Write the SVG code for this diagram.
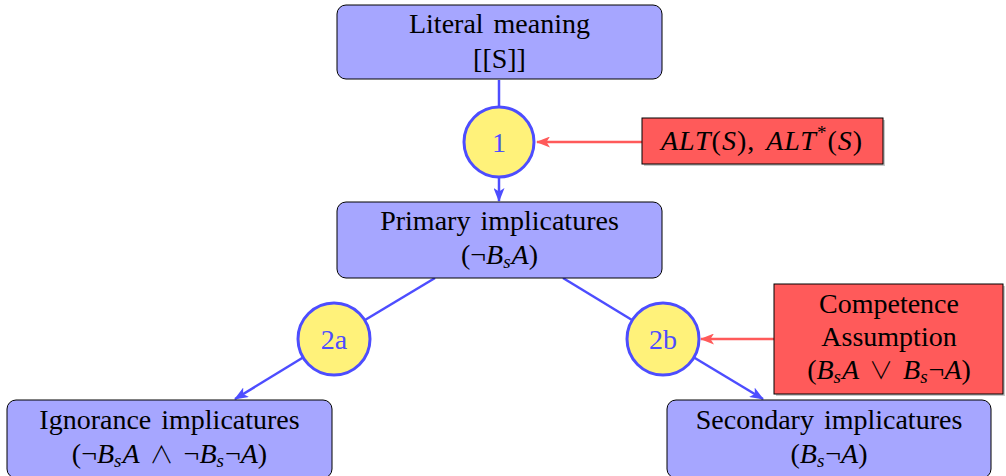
<svg xmlns="http://www.w3.org/2000/svg" width="1006" height="476" viewBox="0 0 1006 476">
<style>
.box{fill:#a6a6ff;stroke:#000;stroke-width:1}
.red{fill:#ff5a5a;stroke:#000;stroke-width:1}
.shadow{fill:#c8c8c8}
.circ{fill:#fff27a;stroke:#4d4dff;stroke-width:3}
.t{font-family:"Liberation Serif","Times New Roman",serif;font-size:28px;fill:#000;text-anchor:middle;word-spacing:3px}
.ct{font-family:"Liberation Serif","Times New Roman",serif;font-size:28px;fill:#4d4dff;text-anchor:middle}
.i{font-style:italic}
.sub{font-style:italic;font-size:19px}
.op{font-family:"Noto Sans CJK SC","DejaVu Sans",sans-serif;font-size:24px;font-weight:300}
.blue{stroke:#4d4dff;stroke-width:2.5;fill:none}
.redl{stroke:#ff5a5a;stroke-width:2.5;fill:none}
</style>
<defs>
<marker id="ab" viewBox="0 0 14 11" refX="13" refY="5.5" markerWidth="14" markerHeight="11" markerUnits="userSpaceOnUse" orient="auto">
<path d="M0,0 L14,5.5 L0,11 L3.5,5.5 Z" fill="#4d4dff"/>
</marker>
<marker id="ar" viewBox="0 0 14 11" refX="13" refY="5.5" markerWidth="14" markerHeight="11" markerUnits="userSpaceOnUse" orient="auto">
<path d="M0,0 L14,5.5 L0,11 L3.5,5.5 Z" fill="#ff5a5a"/>
</marker>
</defs>
<g id="connectors">
<line class="blue" x1="499" y1="80" x2="499" y2="107"/>
<line class="blue" x1="499" y1="177" x2="499" y2="201" marker-end="url(#ab)"/>
<line class="blue" x1="435" y1="278" x2="365" y2="320"/>
<line class="blue" x1="303" y1="357.5" x2="235" y2="399" marker-end="url(#ab)"/>
<line class="blue" x1="563" y1="278" x2="632" y2="320"/>
<line class="blue" x1="694" y1="357.5" x2="763" y2="399" marker-end="url(#ab)"/>
<line class="redl" x1="642" y1="142" x2="537" y2="142" marker-end="url(#ar)"/>
<line class="redl" x1="774" y1="339" x2="701" y2="339" marker-end="url(#ar)"/>
</g>
<g id="literal">
<rect class="box" x="337" y="5" width="325" height="74" rx="9"/>
<text class="t" x="499.5" y="33">Literal meaning</text>
<text class="t" x="499.5" y="68">[[S]]</text>
</g>
<g id="c1">
<circle class="circ" cx="499" cy="142" r="35"/>
<text class="ct" x="499" y="152">1</text>
</g>
<g id="alt">
<rect class="shadow" x="644" y="120" width="241" height="46"/>
<rect class="red" x="642" y="118" width="241" height="46"/>
<text class="t" x="762" y="150" letter-spacing="1"><tspan class="i">ALT</tspan>(<tspan class="i">S</tspan>), <tspan class="i">ALT</tspan><tspan font-size="19px" dy="-11">*</tspan><tspan dy="11">(</tspan><tspan class="i">S</tspan>)</text>
</g>
<g id="primary">
<rect class="box" x="337" y="202" width="325" height="76" rx="9"/>
<text class="t" x="499.5" y="230">Primary implicatures</text>
<text class="t" x="499.5" y="264">(¬<tspan class="i">B</tspan><tspan class="sub" dy="4">s</tspan><tspan class="i" dy="-4" dx="1">A</tspan>)</text>
</g>
<g id="c2a">
<circle class="circ" cx="334" cy="339" r="36"/>
<text class="ct" x="334" y="349">2a</text>
</g>
<g id="c2b">
<circle class="circ" cx="663" cy="339" r="36"/>
<text class="ct" x="663" y="349">2b</text>
</g>
<g id="competence">
<rect class="shadow" x="776" y="286" width="229" height="110"/>
<rect class="red" x="774" y="284" width="229" height="110"/>
<text class="t" x="889" y="313">Competence</text>
<text class="t" x="889" y="346">Assumption</text>
<text class="t" x="889" y="379">(<tspan class="i">B</tspan><tspan class="sub" dy="4">s</tspan><tspan class="i" dy="-4" dx="1">A</tspan> <tspan class="op">∨</tspan> <tspan class="i">B</tspan><tspan class="sub" dy="4">s</tspan><tspan dy="-4" dx="1">¬</tspan><tspan class="i">A</tspan>)</text>
</g>
<g id="ignorance">
<rect class="box" x="7" y="400" width="325" height="78" rx="9"/>
<text class="t" x="169.5" y="429">Ignorance implicatures</text>
<text class="t" x="169.5" y="463">(¬<tspan class="i">B</tspan><tspan class="sub" dy="4">s</tspan><tspan class="i" dy="-4" dx="1">A</tspan> <tspan class="op">∧</tspan> ¬<tspan class="i">B</tspan><tspan class="sub" dy="4">s</tspan><tspan dy="-4" dx="1">¬</tspan><tspan class="i">A</tspan>)</text>
</g>
<g id="secondary">
<rect class="box" x="667" y="400" width="324" height="78" rx="9"/>
<text class="t" x="829" y="429">Secondary implicatures</text>
<text class="t" x="829" y="463">(<tspan class="i">B</tspan><tspan class="sub" dy="4">s</tspan><tspan dy="-4" dx="1">¬</tspan><tspan class="i">A</tspan>)</text>
</g>
</svg>
